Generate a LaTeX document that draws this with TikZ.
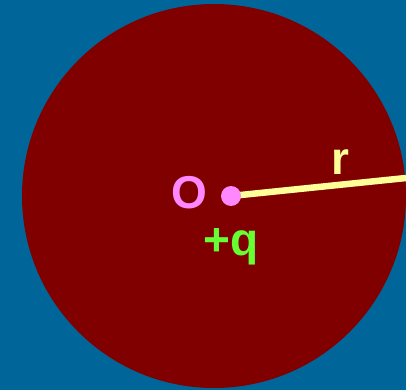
\documentclass[tikz,border=0pt]{standalone}
\usepackage{fontspec}
\setmainfont{Liberation Sans}
\definecolor{bg}{RGB}{0,102,153}
\definecolor{ball}{RGB}{128,0,0}
\definecolor{pinkc}{RGB}{255,136,255}
\definecolor{yell}{RGB}{255,255,153}
\definecolor{greenc}{RGB}{102,255,51}
\begin{document}
\begin{tikzpicture}[x=1pt,y=-1pt,
  lbl/.style={font=\fontsize{46}{46}\selectfont\bfseries, inner sep=0pt}]
\fill[bg] (0,0) rectangle (406,390);
\useasboundingbox (0,0) rectangle (406,390);
\fill[ball] (214,196) circle (192);
\coordinate (edge) at (406,178);
\draw[yell, line width=6.5pt] (231,196) -- (edge);
\fill[pinkc] (231,196) circle (10);
\coordinate (dot) at (231,196);
\node[lbl, text=pinkc] (O) at (189,193) {O};
\node[lbl, text=greenc, anchor=base] (q) at (231,255) {+q};
\node[lbl, text=yell, anchor=base] (r) at (340,174) {r};
\end{tikzpicture}
\end{document}
